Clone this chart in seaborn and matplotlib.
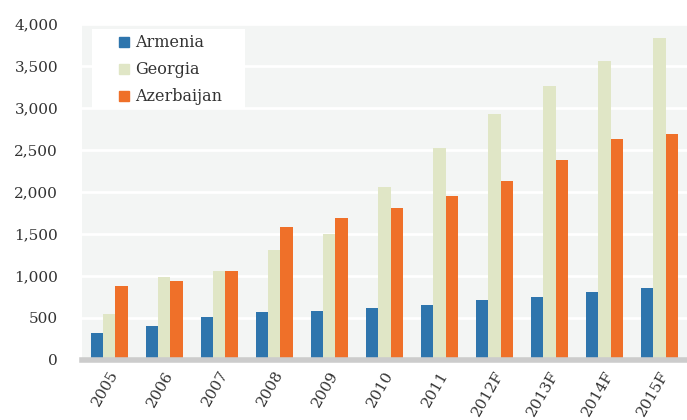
import pandas as pd
import numpy as np
import matplotlib.pyplot as plt
import seaborn as sns
from matplotlib.lines import Line2D
from matplotlib.patches import Rectangle

years = ["2005", "2006", "2007", "2008", "2009", "2010", "2011",
         "2012F", "2013F", "2014F", "2015F"]
armenia = [325, 400, 508, 567, 583, 619, 658, 714, 750, 806, 860]
georgia = [547, 988, 1063, 1305, 1503, 2059, 2523, 2928, 3261, 3559, 3833]
azerbaijan = [881, 936, 1063, 1579, 1690, 1805, 1952, 2134, 2376, 2634, 2690]

df = pd.DataFrame({"Year": years * 3,
                   "Country": ["Armenia"] * 11 + ["Georgia"] * 11 + ["Azerbaijan"] * 11,
                   "Value": armenia + georgia + azerbaijan})

sns.set_style("white")
plt.rcParams['font.family'] = ['DejaVu Serif']

fig = plt.figure(figsize=(6.87, 4.2), dpi=100)
ax = fig.add_axes([0.119, 0.143, 0.881, 0.8])
ax.set_facecolor("#f3f5f4")

pal = {"Armenia": "#2e75ad", "Georgia": "#e0e6c6", "Azerbaijan": "#ef7029"}
sns.barplot(data=df, x="Year", y="Value", hue="Country", palette=pal,
            width=0.67, gap=0, ax=ax, saturation=1, linewidth=0)

ax.set_ylim(0, 4000)
ax.set_yticks(np.arange(0, 4001, 500))
ax.set_yticklabels([f"{v:,}" for v in range(0, 4001, 500)], fontsize=11, color="#333333")
ax.yaxis.grid(True, color="white", linewidth=2)
ax.set_axisbelow(True)
ax.set_xlim(-0.5, 10.5)
for s in ["top", "right", "left"]:
    ax.spines[s].set_visible(False)
ax.spines["bottom"].set_color("#cccccc")
ax.spines["bottom"].set_linewidth(4)
ax.tick_params(axis="y", length=0, pad=17)
ax.tick_params(axis="x", length=0, pad=6)
plt.setp(ax.get_xticklabels(), rotation=60, ha="right", rotation_mode="anchor",
         fontsize=11, color="#333333")
ax.set_xlabel("")
ax.set_ylabel("")

# white legend box
ax.add_patch(Rectangle((0.0165, 0.747), 0.253, 0.238, transform=ax.transAxes,
                       facecolor="white", edgecolor="none", zorder=1.5))
ax.get_legend().remove()
handles = [Line2D([], [], marker="s", linestyle="none", markersize=7.5,
                  markerfacecolor=pal[c], markeredgecolor=pal[c]) for c in pal]
leg = ax.legend(handles, list(pal), loc="upper left", bbox_to_anchor=(0.052, 0.983),
                frameon=False, fontsize=11.5, handlelength=0.8,
                labelspacing=0.62, borderpad=0.3, handletextpad=0.25,
                borderaxespad=0)
leg.set_zorder(5)
for t in leg.get_texts():
    t.set_color("#333333")

plt.savefig("out.png", dpi=100)
